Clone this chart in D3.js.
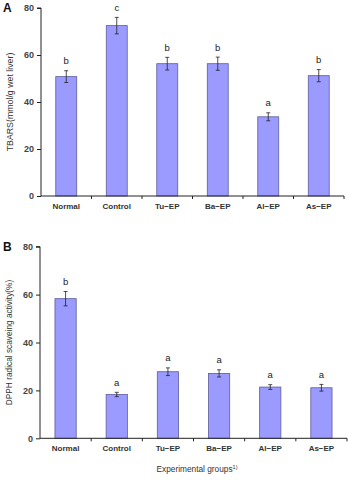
<!DOCTYPE html>
<html>
<head>
<meta charset="utf-8">
<script src="https://cdn.jsdelivr.net/npm/d3@7"></script>
<style>
  html, body { margin: 0; padding: 0; background: #fff; }
  svg { display: block; font-family: "Liberation Sans", Arial, sans-serif; }
</style>
</head>
<body>
<svg id="chart" width="348" height="480"></svg>
<script>
const categories = ["Normal", "Control", "Tu\u2212EP", "Ba\u2212EP", "Al\u2212EP", "As\u2212EP"];
const tbarsMean = [50.8, 72.5, 56.3, 56.3, 33.7, 51.2];
const tbarsErr = [2.5, 3.5, 2.7, 2.8, 1.7, 2.6];
const tbarsLetters = ["b", "c", "b", "b", "a", "b"];
const dpphMean = [58.3, 18.3, 27.8, 27.1, 21.4, 21.1];
const dpphErr = [3.0, 0.9, 1.6, 1.5, 1.0, 1.4];
const dpphLetters = ["b", "a", "a", "a", "a", "a"];
const yTicks = [0, 20, 40, 60, 80];

const svg = d3.select("#chart");

function panel(opts) {
  const g = svg.append("g");
  const y = d3.scaleLinear().domain([0, 80]).range([opts.y0, opts.y1]);
  const x = d3.scaleBand().domain(categories).range([opts.x0, opts.x1]).paddingInner(0.585).paddingOuter(0.2925);

  // y axis
  const yAxis = d3.axisLeft(y).tickValues(yTicks).tickSize(4).tickPadding(3).tickFormat(d3.format("d"));
  const ya = g.append("g").attr("transform", `translate(${opts.x0},0)`).call(yAxis);
  ya.select(".domain").attr("stroke", "#222").attr("stroke-width", 1).attr("d", `M-4,${opts.y1}H0V${opts.y0}`);
  ya.selectAll(".tick line").attr("stroke", "#222");
  ya.selectAll(".tick text").attr("font-size", "9px").attr("font-weight", "bold").attr("fill", "#444")
    .attr("font-family", "Liberation Sans, Arial, sans-serif");

  // bars
  const data = opts.mean.map((m, i) => ({ c: categories[i], m, e: opts.err[i], l: opts.letters[i] }));
  g.selectAll("rect.bar").data(data).join("rect").attr("class", "bar")
    .attr("x", d => x(d.c)).attr("width", x.bandwidth())
    .attr("y", d => y(d.m)).attr("height", d => y(0) - y(d.m))
    .attr("fill", "#9a9aff").attr("stroke", "#5c5c9c").attr("stroke-width", 0.8);

  // error bars
  const cx = d => x(d.c) + x.bandwidth() / 2;
  const eb = g.selectAll("g.err").data(data).join("g").attr("class", "err").attr("stroke", "#222").attr("stroke-width", 0.8);
  eb.append("line").attr("x1", cx).attr("x2", cx).attr("y1", d => y(d.m + d.e)).attr("y2", d => y(d.m - d.e));
  eb.append("line").attr("x1", d => cx(d) - 2).attr("x2", d => cx(d) + 2).attr("y1", d => y(d.m + d.e)).attr("y2", d => y(d.m + d.e));
  eb.append("line").attr("x1", d => cx(d) - 2).attr("x2", d => cx(d) + 2).attr("y1", d => y(d.m - d.e)).attr("y2", d => y(d.m - d.e));

  // letters
  g.selectAll("text.letter").data(data).join("text").attr("class", "letter")
    .attr("x", cx).attr("y", d => y(d.m + d.e) - 6.5)
    .attr("text-anchor", "middle").attr("font-size", "9.5px").attr("fill", "#222").text(d => d.l);

  // x axis line with ticks at band boundaries
  const xa = g.append("g");
  xa.append("line").attr("x1", opts.x0).attr("x2", opts.x1).attr("y1", y(0)).attr("y2", y(0)).attr("stroke", "#222").attr("stroke-width", 1);
  const step = x.step();
  const bounds = d3.range(1, categories.length + 1).map(i => opts.x0 + x.step() * x.paddingOuter() - step * x.paddingInner() / 2 + i * step);
  xa.selectAll("line.tk").data(bounds).join("line").attr("class", "tk")
    .attr("x1", d => d).attr("x2", d => d).attr("y1", y(0)).attr("y2", y(0) + 3).attr("stroke", "#222");
  xa.selectAll("text.cat").data(categories).join("text").attr("class", "cat")
    .attr("x", d => x(d) + x.bandwidth() / 2).attr("y", y(0) + 13)
    .attr("text-anchor", "middle").attr("font-size", "8px").attr("font-weight", "bold").attr("fill", "#333").text(d => d);

  // y axis title
  g.append("text").attr("transform", `translate(${opts.titleX},${(opts.y0 + opts.y1) / 2}) rotate(-90)`)
    .attr("text-anchor", "middle").attr("font-size", opts.titleSize).attr("fill", "#333").text(opts.title);

  // panel letter
  g.append("text").attr("x", 3).attr("y", opts.y1 + 4).attr("font-size", "12px").attr("font-weight", "bold")
    .attr("fill", "#111").text(opts.panel);
  return { x, y };
}

panel({ x0: 41, x1: 344, y0: 196, y1: 8, mean: tbarsMean, err: tbarsErr, letters: tbarsLetters,
  title: "TBARS(mmol/g wet liver)", titleX: 13, titleSize: "8.8px", panel: "A" });
panel({ x0: 40, x1: 347, y0: 438.3, y1: 246.7, mean: dpphMean, err: dpphErr, letters: dpphLetters,
  title: "DPPH radical scaveing activity(%)", titleX: 12, titleSize: "8.3px", panel: "B" });

const ft = svg.append("text").attr("x", 197).attr("y", 472).attr("text-anchor", "middle")
  .attr("font-size", "8.3px").attr("fill", "#333");
ft.append("tspan").text("Experimental groups");
ft.append("tspan").attr("font-size", "5.5px").attr("dy", -3).text("1)");
</script>
</body>
</html>
